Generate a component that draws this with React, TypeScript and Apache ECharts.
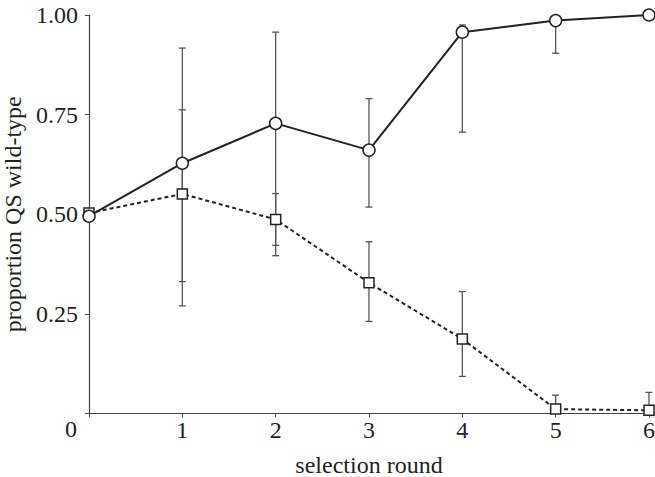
import React, { useEffect, useRef } from "react";
import * as echarts from "echarts";

const rounds = [0, 1, 2, 3, 4, 5, 6];
const wildMean = [0.495, 0.628, 0.728, 0.661, 0.957, 0.986, 1.0];
const wildLow = [null, 0.27, 0.396, 0.518, 0.706, 0.904, null];
const wildHigh = [null, 0.917, 0.957, 0.79, 0.975, 0.995, null];
const mutMean = [0.503, 0.551, 0.487, 0.328, 0.187, 0.011, 0.008];
const mutLow = [null, 0.331, 0.422, 0.231, 0.093, 0.0, 0.0];
const mutHigh = [null, 0.762, 0.552, 0.431, 0.306, 0.046, 0.053];
const yTicks = [0.25, 0.5, 0.75, 1.0];

const FONT = "'Liberation Serif', 'Times New Roman', serif";
const INK = "#231f20";
const FS = 24;

function errData(low: (number | null)[], high: (number | null)[]) {
  const out: number[][] = [];
  rounds.forEach((r, i) => {
    const lo = low[i];
    const hi = high[i];
    if (lo != null && hi != null) out.push([r, lo, hi]);
  });
  return out;
}

function errSeries(low: (number | null)[], high: (number | null)[]) {
  return {
    type: "custom",
    z: 1,
    data: errData(low, high),
    renderItem: (params: any, api: any) => {
      const x = api.value(0);
      const lo = api.coord([x, api.value(1)]);
      const hi = api.coord([x, api.value(2)]);
      const cap = 3.5;
      const style = { stroke: "#555", lineWidth: 1.3 };
      return {
        type: "group",
        children: [
          { type: "line", shape: { x1: lo[0], y1: lo[1], x2: hi[0], y2: hi[1] }, style },
          { type: "line", shape: { x1: lo[0] - cap, y1: lo[1], x2: lo[0] + cap, y2: lo[1] }, style },
          { type: "line", shape: { x1: hi[0] - cap, y1: hi[1], x2: hi[0] + cap, y2: hi[1] }, style },
        ],
      };
    },
  };
}

export default function App() {
  const ref = useRef<HTMLDivElement>(null);
  useEffect(() => {
    document.body.style.margin = "0";
    const chart = echarts.init(ref.current!, null, { renderer: "svg" });
    chart.setOption({
      animation: false,
      backgroundColor: "#fff",
      grid: { left: 89, right: 6, top: 15, bottom: 63.5, containLabel: false, outerBoundsMode: "none" },
      xAxis: {
        type: "value",
        min: 0,
        max: 6,
        interval: 1,
        name: "selection round",
        nameLocation: "middle",
        nameGap: 39,
        nameTextStyle: { fontFamily: FONT, fontSize: FS, color: INK },
        axisLine: { lineStyle: { color: "#444", width: 1.2 } },
        axisTick: { length: 4, lineStyle: { color: "#444" } },
        splitLine: { show: false },
        axisLabel: {
          fontFamily: FONT,
          fontSize: FS,
          color: INK,
          margin: 4,
          formatter: (v: number) => (v === 0 ? "" : String(v)),
        },
      },
      yAxis: {
        type: "value",
        min: 0,
        max: 1,
        interval: 0.25,
        name: "proportion QS wild-type",
        nameLocation: "middle",
        nameGap: 61,
        nameTextStyle: { fontFamily: FONT, fontSize: FS, color: INK },
        axisLine: { show: true, lineStyle: { color: "#444", width: 1.2 } },
        axisTick: { show: true, length: 4, lineStyle: { color: "#444" } },
        splitLine: { show: false },
        axisLabel: {
          fontFamily: FONT,
          fontSize: FS,
          color: INK,
          margin: 11,
          formatter: (v: number) => (yTicks.some((t) => Math.abs(t - v) < 1e-9) ? v.toFixed(2) : ""),
        },
      },
      graphic: [
        {
          type: "text",
          left: 65,
          top: 417,
          style: { text: "0", font: `${FS}px ${FONT}`, fill: INK },
        },
      ],
      series: [
        errSeries(wildLow, wildHigh),
        errSeries(mutLow, mutHigh),
        {
          type: "line",
          z: 3,
          data: rounds.map((r, i) => [r, mutMean[i]]),
          symbol: "rect",
          symbolSize: 10,
          clip: false,
          lineStyle: { color: "#222", width: 2, type: [4, 3] },
          itemStyle: { color: "#fff", borderColor: "#222", borderWidth: 1.5 },
        },
        {
          type: "line",
          z: 4,
          data: rounds.map((r, i) => [r, wildMean[i]]),
          symbol: "circle",
          symbolSize: 12,
          clip: false,
          lineStyle: { color: "#222", width: 2 },
          itemStyle: { color: "#fff", borderColor: "#222", borderWidth: 1.5 },
        },
      ],
    });
    return () => chart.dispose();
  }, []);
  return <div ref={ref} style={{ width: 655, height: 477 }} />;
}
